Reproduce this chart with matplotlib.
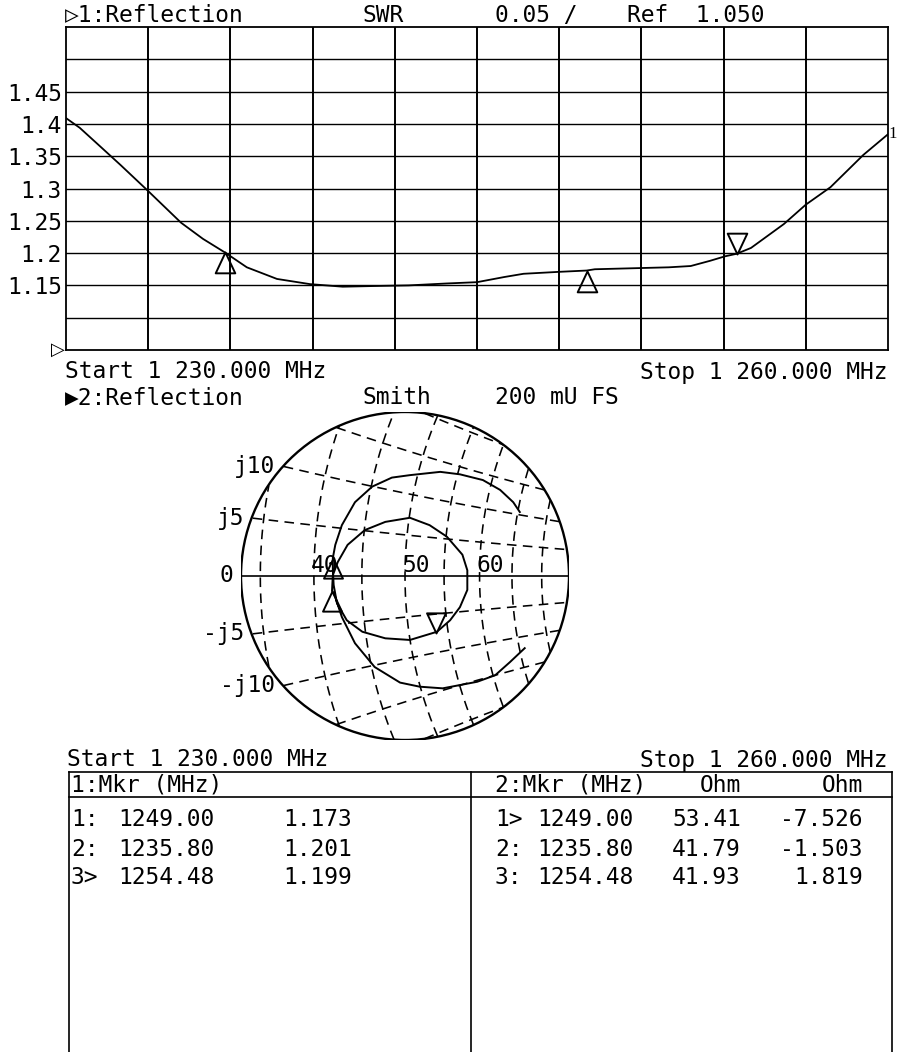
import numpy as np
import matplotlib
matplotlib.use("Agg")
import matplotlib.pyplot as plt
from matplotlib.path import Path
from matplotlib.patches import Circle

# Trace 1: SWR vs frequency
freq_mhz = [1230.0, 1230.5, 1231.2, 1232.0, 1233.0, 1234.2, 1235.0, 1235.8, 1236.6,
            1237.7, 1238.9, 1240.1, 1241.2, 1242.5, 1243.9, 1245.0, 1246.0, 1246.7,
            1248.0, 1249.0, 1249.3, 1251.1, 1252.0, 1252.8, 1253.5, 1254.05, 1254.48,
            1255.0, 1256.2, 1257.0, 1257.9, 1259.1, 1260.0]
swr = [1.409, 1.394, 1.367, 1.336, 1.296, 1.247, 1.222, 1.201, 1.178,
       1.160, 1.152, 1.148, 1.149, 1.150, 1.153, 1.155, 1.163, 1.168,
       1.171, 1.173, 1.175, 1.177, 1.178, 1.180, 1.188, 1.195, 1.199,
       1.208, 1.245, 1.275, 1.302, 1.352, 1.384]

# Trace 2: reflection coefficient on the zoomed Smith chart (mU)
gamma_re = [146, 128, 110, 88, 67, 46, 18, -6, -37, -61, -77, -85, -89,
            -88, -82, -70, -49, -24, 6, 30, 51, 70, 76, 76, 67, 55, 39, 6,
            -24, -52, -71, -83, -87, -88, -88,
            -85, -77, -61, -40, -16, 6, 43, 67, 95, 116, 132, 140]
gamma_im = [-88, -105, -121, -129, -133, -137, -135, -130, -111, -82, -50, -26, -18,
            1, 17, 38, 56, 66, 71, 62, 48, 26, 7, -17, -38, -54, -68, -78,
            -76, -68, -54, -33, -11, 7, 22,
            38, 62, 90, 109, 120, 123, 127, 124, 117, 105, 90, 78]

# Marker table
mkr_ids = [1, 2, 3]
mkr_freq = [1249.00, 1235.80, 1254.48]
mkr_swr = [1.173, 1.201, 1.199]
mkr_r = [53.41, 41.79, 41.93]
mkr_x = [-7.526, -1.503, 1.819]
active_1 = 3
active_2 = 1

start_mhz, stop_mhz = 1230.0, 1260.0
ref_swr, swr_per_div = 1.050, 0.05
swr_ticks = [1.15, 1.2, 1.25, 1.3, 1.35, 1.4, 1.45]
smith_fs = 200  # mU full scale
z0 = 50.0
r_circles = [35, 40, 45, 50, 55, 60, 65, 70]
x_arcs = [-20, -15, -10, -5, 5, 10, 15, 20]
r_labels = [40, 50, 60]
x_labels = [10, 5, 0, -5, -10]

W, H = 898, 1052
FS = 16.5
plt.rcParams['font.family'] = ['DejaVu Sans Mono', 'DejaVu Sans']

fig = plt.figure(figsize=(W / 100, H / 100), dpi=100)


def box(l, t, r, b):
    return [l / W, 1 - b / H, (r - l) / W, (b - t) / H]


# background axes in pixel units for text and the table
bg = fig.add_axes([0, 0, 1, 1])
bg.set_xlim(0, W)
bg.set_ylim(H, 0)
bg.axis('off')


def txt(x, y, s, ha='left', **kw):
    bg.text(x, y, s, ha=ha, va='center', fontsize=FS, **kw)


# triangle markers with the apex on the data point
up_tri = Path([(0, 0), (0.47, -1), (-0.47, -1), (0, 0)],
              [Path.MOVETO, Path.LINETO, Path.LINETO, Path.CLOSEPOLY])
down_tri = Path([(0, 0), (0.47, 1), (-0.47, 1), (0, 0)],
                [Path.MOVETO, Path.LINETO, Path.LINETO, Path.CLOSEPOLY])

# ---------------- SWR trace ----------------
ax1 = fig.add_axes(box(66, 27, 888, 350))
ax1.set_xlim(start_mhz, stop_mhz)
ax1.set_ylim(ref_swr, ref_swr + 10 * swr_per_div)
for i in range(1, 10):
    ax1.axvline(start_mhz + i * (stop_mhz - start_mhz) / 10, color='k', lw=1.4)
    ax1.axhline(ref_swr + i * swr_per_div, color='k', lw=1.0)
for sp in ax1.spines.values():
    sp.set_linewidth(1.3)
ax1.set_xticks([])
ax1.set_yticks(swr_ticks)
ax1.set_yticklabels([f"{v:g}" for v in swr_ticks])
ax1.tick_params(axis='y', length=0, pad=3, labelsize=FS)
ax1.plot(freq_mhz, swr, color='k', lw=1.3)
for mid, f, s in zip(mkr_ids, mkr_freq, mkr_swr):
    m = down_tri if mid == active_1 else up_tri
    ax1.plot(f, s, marker=m, ms=30, mfc='none', mec='k', mew=1.4)
ax1.annotate("1", (freq_mhz[-1], swr[-1]), xytext=(0.5, 0), textcoords='offset points',
             va='center', ha='left', fontsize=12, family='Liberation Serif',
             annotation_clip=False)
ax1.annotate("▷", (start_mhz, ref_swr), xytext=(-1, 0), textcoords='offset points',
             va='center', ha='right', fontsize=13, family='DejaVu Sans',
             annotation_clip=False)

txt(65, 15, "▷1:Reflection")
txt(362, 15, "SWR")
txt(495, 15, f"{swr_per_div:.2f} /")
txt(627, 15, f"Ref  {ref_swr:.3f}")
txt(65, 372, f"Start 1 {start_mhz - 1000:.3f} MHz")
txt(887, 372, f"Stop 1 {stop_mhz - 1000:.3f} MHz", ha='right')

# ---------------- Smith chart ----------------
txt(65, 398, "▶2:Reflection")
txt(362, 398, "Smith")
txt(495, 398, f"{smith_fs} mU FS")

ax2 = fig.add_axes(box(241, 412, 569, 740))
ax2.set_xlim(-smith_fs, smith_fs)
ax2.set_ylim(-smith_fs, smith_fs)
ax2.axis('off')


def gamma_mu(z):
    return (z - z0) / (z + z0) * 1000


def clip(g):
    g = np.array(g, dtype=complex)
    g[np.abs(g) > smith_fs] = np.nan
    return g


dash = (0, (6, 4))
for r in r_circles:
    g = clip(gamma_mu(r + 1j * np.linspace(-60, 60, 800)))
    ax2.plot(g.real, g.imag, color='k', lw=1.15, ls=dash)
for xv in x_arcs:
    g = clip(gamma_mu(np.linspace(25, 110, 800) + 1j * xv))
    ax2.plot(g.real, g.imag, color='k', lw=1.15, ls=dash)

ax2.add_patch(Circle((0, 0), smith_fs, fill=False, lw=1.7, color='k'))
ax2.plot([-smith_fs, smith_fs], [0, 0], color='k', lw=1.2)

px = smith_fs / 164.0
for r in r_labels:
    gx = gamma_mu(r + 0j).real
    ax2.text(gx - 3 * px, 4 * px, f"{r}", ha='left', va='baseline', fontsize=FS,
             clip_on=False)
for xv in x_labels:
    g = gamma_mu(np.linspace(25, 110, 2000) + 1j * xv)
    g = g[np.abs(g) <= smith_fs]
    g0 = g[np.argmin(g.real)]
    lab = "0" if xv == 0 else (f"j{xv}" if xv > 0 else f"-j{-xv}")
    ax2.text(g0.real - 8 * px, g0.imag, lab, ha='right', va='center', fontsize=FS,
             clip_on=False)

ax2.plot(gamma_re, gamma_im, color='k', lw=1.4)
for mid, r, xv in zip(mkr_ids, mkr_r, mkr_x):
    g = gamma_mu(r + 1j * xv)
    m = down_tri if mid == active_2 else up_tri
    ax2.plot(g.real, g.imag, marker=m, ms=29, mfc='none', mec='k', mew=1.4,
             clip_on=False)

txt(67, 760, f"Start 1 {start_mhz - 1000:.3f} MHz")
txt(888, 760, f"Stop 1 {stop_mhz - 1000:.3f} MHz", ha='right')

# ---------------- marker table ----------------
tl, tm, tr = 69, 471, 892
bg.plot([tl, tr], [772, 772], color='k', lw=1.2)
bg.plot([tl, tr], [797, 797], color='k', lw=1.2)
for xv in (tl, tm, tr):
    bg.plot([xv, xv], [772, H], color='k', lw=1.2)

txt(71, 785, "1:Mkr (MHz)")
txt(495, 785, "2:Mkr (MHz)")
txt(741, 785, "Ohm", ha='right')
txt(863, 785, "Ohm", ha='right')

for i, mid in enumerate(mkr_ids):
    y = 820 + 29 * i
    txt(71, y, f"{mid}>" if mid == active_1 else f"{mid}:")
    txt(118, y, f"{mkr_freq[i]:.2f}")
    txt(283, y, f"{mkr_swr[i]:.3f}")
    txt(495, y, f"{mid}>" if mid == active_2 else f"{mid}:")
    txt(537, y, f"{mkr_freq[i]:.2f}")
    txt(741, y, f"{mkr_r[i]:.2f}", ha='right')
    txt(863, y, f"{mkr_x[i]:.3f}", ha='right')

fig.savefig("out.png", dpi=100)
